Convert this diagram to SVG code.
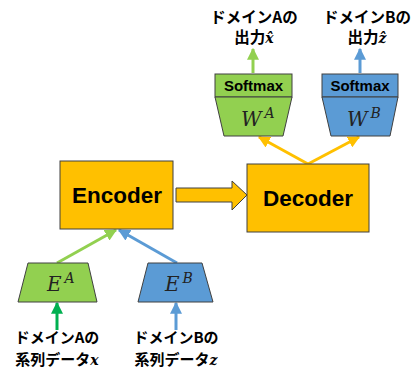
<svg xmlns="http://www.w3.org/2000/svg" width="414" height="369" viewBox="0 0 414 369">
  <defs>
    <style>
      .box { fill: #FFC000; stroke: #404040; stroke-width: 1; }
      .ga { fill: #92D050; stroke: #404040; stroke-width: 1; }
      .bl { fill: #5B9BD5; stroke: #404040; stroke-width: 1; }
      .big { font-family: "Liberation Sans", Arial, sans-serif; font-weight: bold; font-size: 22.5px; fill: #000; text-anchor: middle; }
      .sm { font-family: "Liberation Sans", Arial, sans-serif; font-weight: bold; font-size: 15px; fill: #000; text-anchor: middle; }
      .math { font-family: "DejaVu Serif", "Liberation Serif", serif; font-style: italic; fill: #222; }
      .jp { font-family: "Noto Sans CJK JP", "Noto Sans", sans-serif; font-weight: bold; font-size: 15.5px; fill: #000; text-anchor: middle; }
      .jpb { font-family: "Noto Sans CJK JP", "Noto Sans", sans-serif; font-weight: bold; font-size: 15px; fill: #000; text-anchor: middle; }
      .mi { font-family: "DejaVu Serif", "Liberation Serif", serif; font-style: italic; font-weight: bold; font-size: 14px; }
    </style>
    <marker id="hY" viewBox="0 0 10 10" refX="9" refY="5" markerWidth="4" markerHeight="4" orient="auto">
      <path d="M0,0 L10,5 L0,10 z" fill="#FFC000"/>
    </marker>
    <marker id="hG" viewBox="0 0 10 10" refX="9" refY="5" markerWidth="4" markerHeight="4" orient="auto">
      <path d="M0,0 L10,5 L0,10 z" fill="#92D050"/>
    </marker>
    <marker id="hB" viewBox="0 0 10 10" refX="9" refY="5" markerWidth="4" markerHeight="4" orient="auto">
      <path d="M0,0 L10,5 L0,10 z" fill="#5B9BD5"/>
    </marker>
    <marker id="hD" viewBox="0 0 10 10" refX="9" refY="5" markerWidth="4" markerHeight="4" orient="auto">
      <path d="M0,0 L10,5 L0,10 z" fill="#00B050"/>
    </marker>
  </defs>

  <rect width="414" height="369" fill="#fff"/>

  <!-- connectors -->
  <g id="connectors" fill="none" stroke-width="3">
    <line x1="57" y1="263" x2="116" y2="230" stroke="#92D050" marker-end="url(#hG)"/>
    <line x1="177" y1="263" x2="119" y2="230" stroke="#5B9BD5" marker-end="url(#hB)"/>
    <line x1="308" y1="164" x2="259" y2="137" stroke="#FFC000" marker-end="url(#hY)"/>
    <line x1="308" y1="164" x2="359" y2="137" stroke="#FFC000" marker-end="url(#hY)"/>
    <line x1="57" y1="330" x2="57" y2="303" stroke="#00B050" marker-end="url(#hD)"/>
    <line x1="176" y1="330" x2="176" y2="303" stroke="#5B9BD5" marker-end="url(#hB)"/>
    <line x1="253" y1="73" x2="253" y2="49" stroke="#92D050" marker-end="url(#hG)"/>
    <line x1="360" y1="73" x2="360" y2="49" stroke="#5B9BD5" marker-end="url(#hB)"/>
    <!-- block arrow between encoder and decoder -->
    <path d="M176,188 L232,188 L232,181 L247,195 L232,210 L232,202 L176,202 Z" fill="#FFC000" stroke="#404040" stroke-width="1"/>
  </g>

  <g id="encoder">
    <rect class="box" x="60" y="161" width="113" height="68"/>
    <text class="big" x="117" y="203">Encoder</text>
  </g>

  <g id="decoder">
    <rect class="box" x="247" y="164" width="122" height="68"/>
    <text class="big" x="308" y="206">Decoder</text>
  </g>

  <g id="wa">
    <rect class="ga" x="215" y="74" width="77" height="23"/>
    <text class="sm" x="253.5" y="91">Softmax</text>
    <path class="ga" d="M215,97 L292,97 L283,136 L224,136 Z"/>
    <text class="math" x="241" y="126" font-size="20">W<tspan font-size="14" dx="3" dy="-8">A</tspan></text>
  </g>

  <g id="wb">
    <rect class="bl" x="322" y="74" width="76" height="23"/>
    <text class="sm" x="360" y="91">Softmax</text>
    <path class="bl" d="M322,97 L398,97 L390,136 L331,136 Z"/>
    <text class="math" x="347" y="126" font-size="20">W<tspan font-size="14" dx="3" dy="-8">B</tspan></text>
  </g>

  <g id="ea">
    <path class="ga" d="M28,263 L88,263 L97,302 L18,302 Z"/>
    <text class="math" x="47" y="291" font-size="20">E<tspan font-size="14" dx="3" dy="-8">A</tspan></text>
  </g>

  <g id="eb">
    <path class="bl" d="M148,263 L202,263 L213,302 L138,302 Z"/>
    <text class="math" x="165" y="291" font-size="20">E<tspan font-size="14" dx="3" dy="-8">B</tspan></text>
  </g>

  <g id="out-a">
    <text class="jp" x="254" y="23">ドメインAの</text>
    <text class="jp" x="254" y="43">出力<tspan class="mi">x̂</tspan></text>
  </g>

  <g id="out-b">
    <text class="jp" x="367" y="23">ドメインBの</text>
    <text class="jp" x="367" y="43">出力<tspan class="mi">ẑ</tspan></text>
  </g>

  <g id="in-a">
    <text class="jpb" x="57" y="343">ドメインAの</text>
    <text class="jpb" x="57" y="364.5">系列データ<tspan class="mi">x</tspan></text>
  </g>

  <g id="in-b">
    <text class="jpb" x="176" y="343">ドメインBの</text>
    <text class="jpb" x="176" y="364.5">系列データ<tspan class="mi">z</tspan></text>
  </g>
</svg>
